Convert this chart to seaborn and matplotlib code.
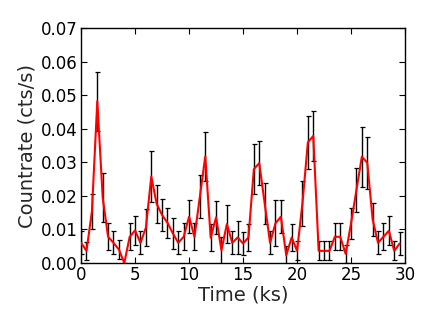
import numpy as np
import pandas as pd
import matplotlib
matplotlib.use("Agg")
import matplotlib.pyplot as plt
import seaborn as sns

time_ks = [0.0, 0.5, 1.0, 1.5, 2.0, 2.5, 3.0, 3.5, 4.0, 4.5,
           5.0, 5.5, 6.0, 6.5, 7.0, 7.5, 8.0, 8.5, 9.0, 9.5,
           10.0, 10.5, 11.0, 11.5, 12.0, 12.5, 13.0, 13.5, 14.0, 14.5,
           15.0, 15.5, 16.0, 16.5, 17.0, 17.5, 18.0, 18.5, 19.0, 19.5,
           20.0, 20.5, 21.0, 21.5, 22.0, 22.5, 23.0, 23.5, 24.0, 24.5,
           25.0, 25.5, 26.0, 26.5, 27.0, 27.5, 28.0, 28.5, 29.0, 29.5]
countrate = [0.0060, 0.0036, 0.0153, 0.0483, 0.0195, 0.0078, 0.0060, 0.0040, 0.0000, 0.0078,
             0.0097, 0.0060, 0.0105, 0.0258, 0.0176, 0.0143, 0.0120, 0.0088, 0.0060, 0.0078,
             0.0138, 0.0078, 0.0198, 0.0318, 0.0075, 0.0136, 0.0038, 0.0116, 0.0060, 0.0076,
             0.0058, 0.0076, 0.0280, 0.0298, 0.0178, 0.0060, 0.0118, 0.0138, 0.0023, 0.0076,
             0.0036, 0.0178, 0.0360, 0.0379, 0.0036, 0.0036, 0.0036, 0.0078, 0.0078, 0.0027,
             0.0118, 0.0218, 0.0317, 0.0299, 0.0130, 0.0060, 0.0078, 0.0096, 0.0036, 0.0058]
count_err = [0.0034, 0.0027, 0.0052, 0.0088, 0.0072, 0.0040, 0.0034, 0.0028, 0.0000, 0.0040,
             0.0044, 0.0034, 0.0055, 0.0075, 0.0057, 0.0049, 0.0045, 0.0047, 0.0034, 0.0040,
             0.0049, 0.0040, 0.0065, 0.0072, 0.0040, 0.0049, 0.0040, 0.0056, 0.0034, 0.0048,
             0.0034, 0.0040, 0.0075, 0.0066, 0.0061, 0.0034, 0.0069, 0.0050, 0.0026, 0.0040,
             0.0028, 0.0068, 0.0080, 0.0075, 0.0028, 0.0028, 0.0028, 0.0040, 0.0040, 0.0027,
             0.0047, 0.0065, 0.0089, 0.0078, 0.0049, 0.0034, 0.0040, 0.0044, 0.0028, 0.0034]

x_ticks = [0, 5, 10, 15, 20, 25, 30]
y_ticks = [0.00, 0.01, 0.02, 0.03, 0.04, 0.05, 0.06, 0.07]

df = pd.DataFrame({"time": time_ks, "rate": countrate, "err": count_err})

sns.set_style("ticks")
plt.rcParams["font.family"] = ["DejaVu Sans"]
plt.rcParams.update({
    "xtick.direction": "in", "ytick.direction": "in",
    "xtick.top": True, "ytick.right": True,
    "xtick.major.size": 4, "ytick.major.size": 4,
    "xtick.color": "black", "ytick.color": "black",
    "axes.edgecolor": "black", "axes.linewidth": 1.0,
})

fig = plt.figure(figsize=(4.36, 3.27), dpi=100)
ax = fig.add_axes([0.186, 0.196, 0.743, 0.717])

ax.errorbar(df["time"], df["rate"], yerr=df["err"], fmt="none",
            ecolor="black", elinewidth=1.0, capsize=1.8, capthick=0.9, zorder=2)
sns.lineplot(data=df, x="time", y="rate", ax=ax, color="red", linewidth=1.5,
             zorder=3, estimator=None)

ax.set_xlim(0, 30)
ax.set_ylim(0, 0.07)
ax.set_xticks(x_ticks)
ax.set_yticks(y_ticks)
ax.set_yticklabels([f"{v:.2f}" for v in y_ticks])
ax.tick_params(labelsize=12, width=0.8, pad=2.5)
ax.set_xlabel("Time (ks)", fontsize=14, labelpad=1)
ax.set_ylabel("Countrate (cts/s)", fontsize=14, labelpad=3)
for s in ax.spines.values():
    s.set_visible(True)

fig.savefig("out.png", dpi=100)
